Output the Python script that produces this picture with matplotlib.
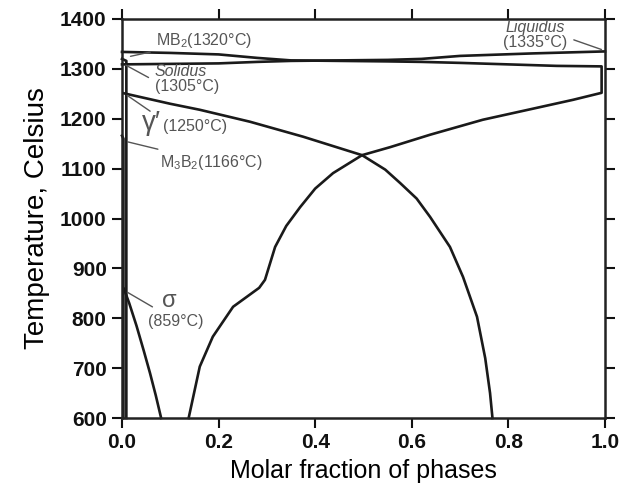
import matplotlib
matplotlib.use("Agg")
import matplotlib.pyplot as plt

plt.rcParams['font.family'] = ['Liberation Sans', 'DejaVu Sans']
plt.rcParams['mathtext.fontset'] = 'custom'
plt.rcParams['mathtext.rm'] = 'Liberation Sans'
plt.rcParams['mathtext.it'] = 'Liberation Sans:italic'

# Liquid phase fraction
liquid_x = [1.0, 0.85, 0.70, 0.62, 0.55, 0.45, 0.35, 0.28, 0.20, 0.10, 0.0]
liquid_T = [1335, 1331, 1326, 1320, 1318, 1317, 1316, 1314, 1311, 1310, 1309]

# Gamma (FCC matrix) phase fraction
gamma_x = [0.0, 0.10, 0.20, 0.28, 0.35, 0.45, 0.55, 0.62, 0.70, 0.80, 0.90, 0.993,
           0.993, 0.934, 0.85, 0.747, 0.638, 0.555, 0.497, 0.437, 0.40, 0.369, 0.340,
           0.317, 0.296, 0.284, 0.23, 0.188, 0.161, 0.138]
gamma_T = [1334, 1332, 1329, 1322, 1317, 1316, 1315, 1314, 1312, 1309, 1306, 1305,
           1252, 1238, 1220, 1198, 1168, 1143, 1127, 1091, 1060, 1023, 985,
           943, 877, 861, 823, 763, 703, 600]

# Gamma prime phase fraction
gprime_x = [0.004, 0.10, 0.161, 0.265, 0.375, 0.497, 0.545, 0.576, 0.610, 0.638,
            0.679, 0.706, 0.735, 0.752, 0.762, 0.767]
gprime_T = [1251, 1230, 1218, 1194, 1164, 1127, 1098, 1071, 1040, 1003,
            943, 883, 803, 720, 650, 600]

# Sigma phase fraction
sigma_x = [0.004, 0.015, 0.030, 0.045, 0.058, 0.070, 0.081]
sigma_T = [859, 830, 785, 735, 690, 645, 600]

# Borides
mb2_x = [0.0, 0.009, 0.009]
mb2_T = [1320, 1316, 600]
m3b2_x = [0.0, 0.003, 0.003]
m3b2_T = [1166, 1160, 600]

x_ticks = [0.0, 0.2, 0.4, 0.6, 0.8, 1.0]
y_ticks = [600, 700, 800, 900, 1000, 1100, 1200, 1300, 1400]

fig = plt.figure(figsize=(6.24, 4.83), dpi=100)
ax = fig.add_axes([122/624, 1-418/483, (605-122)/624, (418-19)/483])

lc = '#1a1a1a'
lw = 1.9
for xs, ts in [(liquid_x, liquid_T), (gamma_x, gamma_T), (gprime_x, gprime_T),
               (sigma_x, sigma_T), (mb2_x, mb2_T), (m3b2_x, m3b2_T)]:
    ax.plot(xs, ts, color=lc, lw=lw, solid_joinstyle='round', clip_on=False)

ax.set_xlim(0, 1.0)
ax.set_ylim(600, 1400)
ax.set_xticks(x_ticks)
ax.set_xticklabels([f"{v:.1f}" for v in x_ticks])
ax.set_yticks(y_ticks)
ax.tick_params(axis='both', direction='out', length=7, width=1.5, labelsize=15,
               top=True, right=True, colors='#111111', pad=4)
for lab in ax.get_xticklabels() + ax.get_yticklabels():
    lab.set_fontweight('bold')
for s in ax.spines.values():
    s.set_linewidth(1.8)
    s.set_color('#222222')

ax.set_xlabel("Molar fraction of phases", fontsize=18, labelpad=5)
ax.set_ylabel("Temperature, Celsius", fontsize=20, labelpad=7)

tc = '#555555'
fs = 11.5
arrow = dict(arrowstyle='-', color='#555555', lw=1.0)

ax.annotate("MB$_\\mathregular{2}$(1320°C)", xy=(0.012, 1324), xytext=(0.07, 1357),
            fontsize=fs, color=tc, va='center', ha='left', arrowprops=arrow)
ax.annotate("", xy=(0.003, 1310), xytext=(0.06, 1280), arrowprops=arrow)
ax.text(0.068, 1295, "Solidus", fontsize=fs, color=tc, style='italic', va='center', ha='left')
ax.text(0.068, 1264, "(1305°C)", fontsize=fs, color=tc, va='center', ha='left')

ax.annotate("", xy=(0.006, 1250), xytext=(0.063, 1212), arrowprops=arrow)
ax.text(0.042, 1192, "γ′", fontsize=20, color=tc, va='center', ha='left')
ax.text(0.085, 1185, "(1250°C)", fontsize=fs, color=tc, va='center', ha='left')

ax.annotate("M$_\\mathregular{3}$B$_\\mathregular{2}$(1166°C)", xy=(0.006, 1155),
            xytext=(0.078, 1113), fontsize=fs, color=tc, va='center', ha='left',
            arrowprops=arrow)

ax.annotate("", xy=(0.006, 855), xytext=(0.068, 820), arrowprops=arrow)
ax.text(0.083, 834, "σ", fontsize=17, color=tc, va='center', ha='left')
ax.text(0.054, 793, "(859°C)", fontsize=fs, color=tc, va='center', ha='left')

ax.annotate("", xy=(0.998, 1337), xytext=(0.93, 1360), arrowprops=arrow)
ax.text(0.855, 1383, "Liquidus", fontsize=fs, color=tc, style='italic', va='center', ha='center')
ax.text(0.855, 1353, "(1335°C)", fontsize=fs, color=tc, va='center', ha='center')

fig.savefig("out.png", dpi=100)
